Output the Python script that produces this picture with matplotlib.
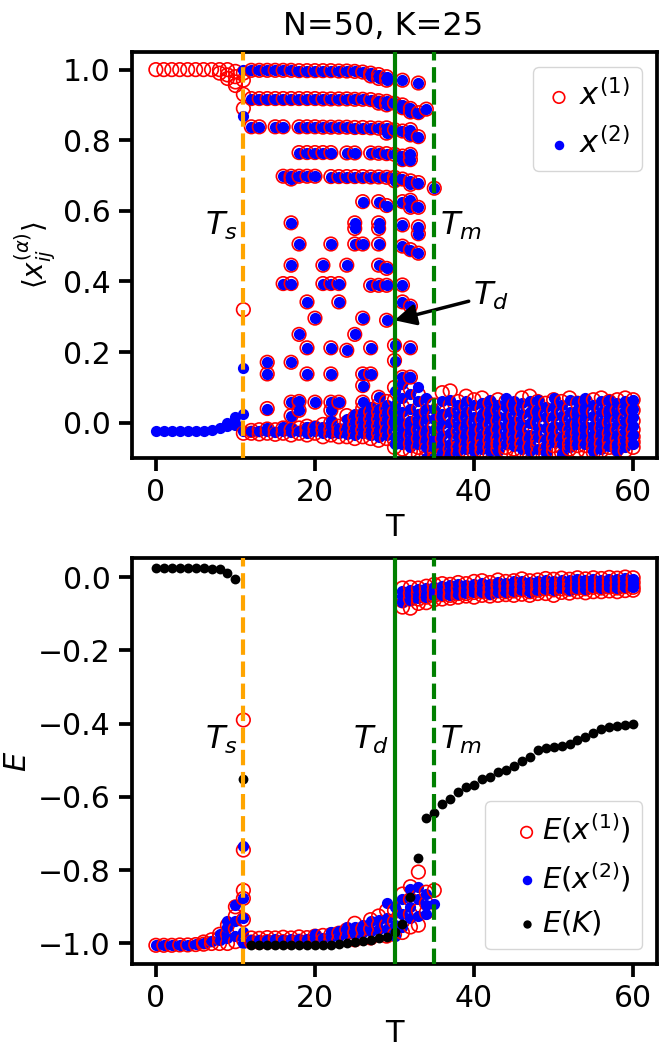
import numpy as np
import matplotlib
matplotlib.use('Agg')
import matplotlib.pyplot as plt

# ---------------- data ----------------
T_Ts, T_Td, T_Tm = 11, 30, 35

# top panel: <x_ij> below T_s (x1 ordered, x2 disordered)
x1_low_T = [0, 1, 2, 3, 4, 5, 6, 7, 8, 8, 9, 9, 9, 10, 10, 10, 10, 11, 11, 11, 11, 11, 11]
x1_low_v = [1.0, 1.0, 1.0, 1.0, 1.0, 1.0, 1.0, 1.0, 1.0, 0.99, 1.0, 0.985, 0.975,
            0.995, 0.98, 0.965, 0.955, 0.99, 0.97, 0.93, 0.89, 0.32, -0.03]
x2_low_T = [0, 1, 2, 3, 4, 5, 6, 7, 8, 9, 9, 10, 10, 10, 11, 11, 11, 11, 11]
x2_low_v = [-0.025, -0.025, -0.025, -0.025, -0.025, -0.024, -0.023, -0.021, -0.016,
            -0.01, 0.0, 0.015, 0.0, -0.006, 1.0, 0.87, 0.155, 0.025, -0.025]

# discrete levels between T_s and T_m (both replicas)
row_T = [12, 13, 14, 15, 16, 17, 18, 19, 20, 21, 22, 23, 24, 25, 26, 27, 27, 28, 28, 29, 29, 31, 33,
         12, 13, 14, 15, 16, 17, 18, 19, 20, 21, 22, 23, 24, 25, 26, 27, 28, 28, 29, 29, 30, 31, 31, 32, 32, 33, 34,
         12, 13, 15, 16, 18, 19, 20, 21, 22, 23, 24, 25, 26, 27, 28, 29, 29, 30, 31, 32, 32, 33,
         18, 19, 20, 21, 22, 24, 25, 27, 28, 29, 30, 31, 31, 32, 32,
         16, 17, 17, 18, 19, 20, 22, 23, 24, 25, 26, 27, 28, 29, 30, 30, 31, 32, 32, 33, 35]
row_v = [0.998, 0.998, 0.998, 0.998, 0.998, 0.998, 0.997, 0.997, 0.997, 0.997, 0.997, 0.996, 0.996, 0.995,
         0.993, 0.99, 0.982, 0.986, 0.975, 0.98, 0.97, 0.97, 0.962,
         0.918, 0.918, 0.918, 0.918, 0.918, 0.918, 0.918, 0.918, 0.918, 0.917, 0.917, 0.917, 0.917, 0.916,
         0.916, 0.915, 0.912, 0.905, 0.91, 0.9, 0.905, 0.9, 0.892, 0.89, 0.88, 0.878, 0.888,
         0.838, 0.838, 0.838, 0.838, 0.838, 0.838, 0.838, 0.837, 0.837, 0.837, 0.837, 0.836, 0.836, 0.835,
         0.834, 0.835, 0.82, 0.83, 0.826, 0.83, 0.815, 0.81,
         0.765, 0.765, 0.765, 0.765, 0.765, 0.764, 0.764, 0.764, 0.763, 0.762, 0.76, 0.755, 0.745, 0.76, 0.745,
         0.698, 0.698, 0.69, 0.698, 0.698, 0.698, 0.697, 0.697, 0.697, 0.697, 0.697, 0.696, 0.696, 0.695,
         0.695, 0.685, 0.69, 0.685, 0.675, 0.68, 0.664]

# isolated intermediate values (both replicas)
mid_T = [17, 18, 17, 16, 17, 19, 20, 18, 19, 14, 17, 14, 19, 22, 26, 27, 22, 21, 21, 22, 23, 23,
         25, 25, 25, 26, 24, 26, 25, 22, 24, 27, 26, 28, 28, 28, 28, 28, 29, 27, 28, 29, 29, 29,
         26, 26, 28, 17, 18, 20, 22, 23, 14, 17, 18, 22,
         31, 32, 32, 33, 31, 33, 33, 31, 32, 33, 31, 31, 32, 30, 30, 32, 31, 32]
mid_v = [0.566, 0.506, 0.446, 0.394, 0.394, 0.342, 0.296, 0.25, 0.212, 0.171, 0.171, 0.138, 0.138,
         0.138, 0.138, 0.138, 0.506, 0.446, 0.394, 0.394, 0.394, 0.342,
         0.566, 0.55, 0.506, 0.506, 0.446, 0.296, 0.25, 0.212, 0.205, 0.212, 0.626, 0.626, 0.566,
         0.55, 0.506, 0.446, 0.437, 0.389, 0.389, 0.389, 0.29, 0.615,
         0.105, 0.058, 0.072, 0.058, 0.06, 0.058, 0.058, 0.058, 0.04, 0.02, 0.035, 0.035,
         0.626, 0.63, 0.61, 0.61, 0.56, 0.555, 0.535, 0.5, 0.49, 0.48, 0.39, 0.342, 0.33,
         0.219, 0.176, 0.212, 0.129, 0.129]

# band near zero, T = 12 .. 29
band_T = [12, 13, 14, 15, 16, 17, 18, 19, 20, 21, 22, 23, 24, 25, 26, 27, 28, 29]
x1_band = [[-0.03, -0.022], [-0.032, -0.02], [-0.03, -0.018], [-0.033, -0.02], [-0.03, -0.015],
           [-0.035, -0.02], [-0.03, -0.015], [-0.035, -0.02, -0.01], [-0.03, -0.015],
           [-0.04, -0.02, -0.005], [-0.035, -0.02, 0.0], [-0.04, -0.025, -0.01],
           [-0.04, -0.02, 0.0, 0.02], [-0.045, -0.025, -0.005, 0.015],
           [-0.04, -0.02, 0.0, 0.02, 0.04], [-0.045, -0.03, -0.01, 0.01, 0.03],
           [-0.05, -0.03, -0.01, 0.01, 0.03, 0.05], [-0.045, -0.025, 0.0, 0.02, 0.04, 0.06]]
x2_band = [[-0.025], [-0.024], [-0.025, -0.015], [-0.026], [-0.025, -0.012], [-0.027, -0.015],
           [-0.025], [-0.028, -0.012], [-0.025, -0.01], [-0.03, -0.012], [-0.028, -0.01, 0.005],
           [-0.03, -0.015], [-0.032, -0.012, 0.01], [-0.035, -0.015, 0.005, 0.025],
           [-0.03, -0.01, 0.01, 0.03], [-0.035, -0.02, 0.0, 0.02, 0.045],
           [-0.04, -0.02, 0.0, 0.02, 0.04], [-0.035, -0.015, 0.01, 0.03, 0.05]]

# high temperature cloud, T = 30 .. 60
cloud_T = [30, 31, 32, 33, 34, 35, 36, 37, 38, 39, 40, 41, 42, 43, 44, 45,
           46, 47, 48, 49, 50, 51, 52, 53, 54, 55, 56, 57, 58, 59, 60]
x1_cloud = [[0.1, 0.065, 0.03, 0.0, -0.025, -0.05, -0.07],
            [0.12, 0.085, 0.045, 0.01, -0.02, -0.045, -0.075],
            [0.095, 0.055, 0.02, -0.005, -0.035, -0.06, -0.08],
            [0.08, 0.04, 0.01, -0.02, -0.045, -0.07, -0.09],
            [0.06, 0.03, 0.0, -0.03, -0.055, -0.075, -0.095],
            [0.05, 0.02, -0.01, -0.035, -0.06, -0.08, -0.1],
            [0.085, 0.04, 0.015, -0.015, -0.045, -0.07, -0.09],
            [0.09, 0.05, 0.02, -0.02, -0.05, -0.075, -0.095],
            [0.06, 0.035, 0.005, -0.025, -0.05, -0.07, -0.085],
            [0.075, 0.045, 0.015, -0.015, -0.04, -0.065, -0.08],
            [0.065, 0.03, 0.0, -0.03, -0.055, -0.07, -0.085],
            [0.07, 0.04, 0.01, -0.02, -0.045, -0.065, -0.08],
            [0.055, 0.025, -0.005, -0.03, -0.05, -0.07, -0.09],
            [0.065, 0.035, 0.005, -0.02, -0.045, -0.06, -0.075],
            [0.06, 0.03, 0.0, -0.025, -0.05, -0.07, -0.08],
            [0.05, 0.02, -0.01, -0.035, -0.055, -0.075, -0.09],
            [0.07, 0.04, 0.01, -0.015, -0.04, -0.06, -0.08],
            [0.075, 0.045, 0.015, -0.02, -0.045, -0.07, -0.095],
            [0.06, 0.03, 0.0, -0.03, -0.05, -0.065, -0.085],
            [0.055, 0.025, -0.005, -0.03, -0.055, -0.075, -0.09],
            [0.065, 0.035, 0.01, -0.02, -0.045, -0.065, -0.08],
            [0.06, 0.03, 0.0, -0.025, -0.05, -0.07, -0.085],
            [0.07, 0.04, 0.01, -0.02, -0.04, -0.06, -0.075],
            [0.055, 0.025, -0.005, -0.03, -0.05, -0.065, -0.08],
            [0.06, 0.035, 0.005, -0.02, -0.045, -0.065, -0.08],
            [0.065, 0.03, 0.0, -0.025, -0.05, -0.07, -0.085],
            [0.07, 0.04, 0.01, -0.015, -0.04, -0.06, -0.08],
            [0.06, 0.03, 0.0, -0.03, -0.05, -0.07, -0.09],
            [0.065, 0.035, 0.005, -0.02, -0.045, -0.065, -0.075],
            [0.07, 0.04, 0.01, -0.02, -0.045, -0.06, -0.08],
            [0.065, 0.035, 0.005, -0.02, -0.04, -0.055, -0.07]]
x2_cloud = [[0.09, 0.05, 0.015, -0.01, -0.04, -0.06],
            [0.11, 0.07, 0.03, 0.0, -0.03, -0.06],
            [0.13, 0.08, 0.04, 0.005, -0.02, -0.05, -0.07],
            [0.1, 0.06, 0.025, -0.005, -0.035, -0.06],
            [0.07, 0.04, 0.01, -0.02, -0.045, -0.07, -0.1],
            [0.04, 0.01, -0.02, -0.045, -0.07, -0.1],
            [0.06, 0.025, -0.005, -0.035, -0.06, -0.085, -0.105],
            [0.065, 0.03, 0.0, -0.03, -0.06, -0.085, -0.105],
            [0.05, 0.02, -0.01, -0.04, -0.065, -0.08],
            [0.06, 0.03, 0.0, -0.03, -0.055, -0.075],
            [0.05, 0.015, -0.015, -0.04, -0.065, -0.08],
            [0.055, 0.025, -0.005, -0.035, -0.06, -0.075],
            [0.065, 0.035, 0.01, -0.02, -0.04, -0.06, -0.08],
            [0.05, 0.02, -0.01, -0.035, -0.06, -0.08],
            [0.07, 0.045, 0.015, -0.01, -0.035, -0.06],
            [0.06, 0.035, 0.005, -0.02, -0.045, -0.065],
            [0.055, 0.025, -0.005, -0.03, -0.055, -0.075],
            [0.06, 0.03, 0.0, -0.035, -0.06, -0.08],
            [0.065, 0.04, 0.015, -0.015, -0.04, -0.075],
            [0.045, 0.015, -0.015, -0.045, -0.065, -0.085],
            [0.07, 0.045, 0.02, -0.01, -0.035, -0.055],
            [0.05, 0.02, -0.01, -0.04, -0.06, -0.09],
            [0.065, 0.03, 0.0, -0.03, -0.055, -0.07],
            [0.06, 0.035, 0.01, -0.015, -0.04, -0.06],
            [0.07, 0.045, 0.02, -0.01, -0.035, -0.06],
            [0.05, 0.02, -0.01, -0.035, -0.06, -0.08],
            [0.06, 0.03, 0.0, -0.03, -0.055, -0.075],
            [0.065, 0.04, 0.015, -0.015, -0.04, -0.065],
            [0.055, 0.025, -0.005, -0.035, -0.06, -0.08],
            [0.06, 0.035, 0.005, -0.025, -0.05, -0.07],
            [0.065, 0.04, 0.015, -0.01, -0.035, -0.06]]

# bottom panel: energies
temps = [0, 1, 2, 3, 4, 5, 6, 7, 8, 9, 10, 11, 12, 13, 14, 15, 16, 17, 18, 19, 20,
         21, 22, 23, 24, 25, 26, 27, 28, 29, 30, 31, 32, 33, 34, 35, 36, 37, 38, 39, 40,
         41, 42, 43, 44, 45, 46, 47, 48, 49, 50, 51, 52, 53, 54, 55, 56, 57, 58, 59, 60]
E_K = [0.024, 0.024, 0.024, 0.024, 0.024, 0.024, 0.024, 0.023, 0.021, 0.012, -0.005,
       -0.551, -1.005, -1.005, -1.005, -1.005, -1.005, -1.005, -1.005, -1.005, -1.004,
       -1.004, -1.003, -1.001, -0.999, -0.997, -0.994, -0.99, -0.986, -0.981, -0.968,
       -0.947, -0.874, -0.766, -0.657, -0.644, -0.62, -0.607, -0.586, -0.574, -0.568,
       -0.552, -0.547, -0.533, -0.527, -0.516, -0.503, -0.49, -0.472, -0.466, -0.463,
       -0.46, -0.455, -0.446, -0.437, -0.425, -0.416, -0.41, -0.407, -0.405, -0.401]

low_T = [0, 1, 2, 3, 4, 5, 6, 7, 8, 9, 10, 11, 12, 13, 14, 15, 16, 17, 18, 19, 20,
         21, 22, 23, 24, 25, 26, 27, 28, 29, 30, 31, 32, 33, 34, 35]
E1_low = [[-1.005], [-1.005], [-1.005], [-1.004], [-1.004], [-1.003], [-1.002, -0.996],
          [-1.0, -0.99], [-1.0, -0.985, -0.975], [-1.0, -0.975, -0.95],
          [-0.995, -0.96, -0.925, -0.9], [-0.39, -0.745, -0.855, -0.877, -0.935, -0.99],
          [-0.985, -0.996], [-0.986, -0.997], [-0.984, -0.995], [-0.985, -0.996],
          [-0.983, -0.995], [-0.985, -0.996], [-0.982, -0.994], [-0.984, -0.995],
          [-0.98, -0.993], [-0.978, -0.992], [-0.976, -0.99], [-0.972, -0.99],
          [-0.963, -0.985], [-0.945, -0.97, -0.99], [-0.96, -0.985],
          [-0.935, -0.96, -0.985], [-0.925, -0.95, -0.975], [-0.91, -0.95, -0.98],
          [-0.91, -0.94, -0.975], [-0.865, -0.9, -0.94, -0.97], [-0.845, -0.88, -0.92, -0.955],
          [-0.805, -0.87, -0.91, -0.95], [-0.86, -0.89, -0.915], [-0.855]]
E2_low = [[-1.004], [-1.004], [-1.004], [-1.004], [-1.003], [-1.002], [-0.999],
          [-0.994], [-0.99, -0.975], [-0.985, -0.955, -0.94], [-0.98, -0.94, -0.895],
          [-0.735, -0.877, -0.93, -0.97, -1.0],
          [-0.99], [-0.991], [-0.99], [-0.989], [-0.99], [-0.988], [-0.989], [-0.987],
          [-0.986, -0.975], [-0.985], [-0.982, -0.97], [-0.98, -0.965], [-0.975, -0.955],
          [-0.975, -0.955], [-0.97, -0.95], [-0.965, -0.94], [-0.96, -0.935],
          [-0.89, -0.93, -0.96], [-0.9, -0.95, -0.98], [-0.88, -0.92, -0.955],
          [-0.85, -0.9, -0.93], [-0.845, -0.88, -0.925], [-0.865, -0.895, -0.92], [-0.893]]

high_T = [31, 32, 33, 34, 35, 36, 37, 38, 39, 40, 41, 42, 43, 44, 45,
          46, 47, 48, 49, 50, 51, 52, 53, 54, 55, 56, 57, 58, 59, 60]
E1_high = [[-0.03, -0.05, -0.065, -0.082], [-0.028, -0.045, -0.06, -0.085],
           [-0.03, -0.045, -0.06, -0.072], [-0.025, -0.04, -0.055, -0.07],
           [-0.02, -0.035, -0.05, -0.062], [-0.018, -0.033, -0.048, -0.06],
           [-0.02, -0.035, -0.05, -0.058], [-0.015, -0.03, -0.045, -0.055],
           [-0.018, -0.032, -0.045, -0.052], [-0.012, -0.028, -0.042, -0.055],
           [-0.01, -0.025, -0.04, -0.05], [-0.015, -0.03, -0.043, -0.052],
           [-0.008, -0.022, -0.038, -0.05], [-0.012, -0.025, -0.04, -0.048],
           [-0.01, -0.025, -0.038, -0.05], [-0.005, -0.02, -0.035, -0.047],
           [-0.01, -0.025, -0.04, -0.05], [-0.008, -0.022, -0.036, -0.045],
           [-0.004, -0.018, -0.032, -0.045], [-0.006, -0.02, -0.035, -0.05],
           [-0.003, -0.018, -0.032, -0.042], [-0.006, -0.02, -0.033, -0.044],
           [-0.002, -0.016, -0.03, -0.04], [-0.005, -0.018, -0.032, -0.043],
           [-0.002, -0.015, -0.028, -0.04], [-0.004, -0.018, -0.03, -0.04],
           [-0.001, -0.014, -0.027, -0.038], [-0.003, -0.016, -0.03, -0.04],
           [0.0, -0.013, -0.026, -0.037], [-0.002, -0.015, -0.028, -0.036]]
E2_high = [[-0.038, -0.052, -0.068], [-0.035, -0.05, -0.062], [-0.032, -0.048, -0.058],
           [-0.03, -0.045, -0.055], [-0.028, -0.04, -0.05], [-0.025, -0.038, -0.05],
           [-0.022, -0.036, -0.048], [-0.02, -0.033, -0.046], [-0.022, -0.035, -0.044],
           [-0.018, -0.03, -0.042], [-0.015, -0.03, -0.04], [-0.02, -0.032, -0.045],
           [-0.014, -0.027, -0.04], [-0.016, -0.03, -0.04], [-0.012, -0.026, -0.038],
           [-0.01, -0.024, -0.036], [-0.014, -0.028, -0.04], [-0.01, -0.022, -0.034],
           [-0.008, -0.02, -0.032], [-0.012, -0.025, -0.036], [-0.007, -0.02, -0.03],
           [-0.009, -0.022, -0.034], [-0.005, -0.018, -0.03], [-0.008, -0.02, -0.032],
           [-0.005, -0.017, -0.028], [-0.007, -0.02, -0.03], [-0.004, -0.016, -0.028],
           [-0.006, -0.018, -0.03], [-0.003, -0.015, -0.026], [-0.005, -0.016, -0.027]]


def flatten(ts, groups):
    xs, ys = [], []
    for t, vals in zip(ts, groups):
        for v in vals:
            xs.append(t)
            ys.append(v)
    return xs, ys


def scatter_pair(ax, t1, v1, t2, v2, lab1, lab2):
    # one temperature after the other: replica 1 then replica 2,
    # so neighbouring columns overlap the way a per-T loop draws them
    t1, v1, t2, v2 = map(np.asarray, (t1, v1, t2, v2))
    h1 = h2 = None
    for k, t in enumerate(sorted(set(t1) | set(t2))):
        z = 2 + 0.001 * k
        m1 = t1 == t
        if m1.any():
            s = ax.scatter(t1[m1], v1[m1], zorder=z, **red_kw)
            h1 = h1 or s
        m2 = t2 == t
        if m2.any():
            s = ax.scatter(t2[m2], v2[m2], zorder=z + 0.0005, **blue_kw)
            h2 = h2 or s
    h1.set_label(lab1)
    h2.set_label(lab2)
    return h1, h2


plt.rcParams.update({
    'axes.linewidth': 2.7,
    'xtick.major.width': 2.7, 'ytick.major.width': 2.7,
    'xtick.major.size': 9.5, 'ytick.major.size': 9.5,
    'xtick.major.pad': 5, 'ytick.major.pad': 6,
    'xtick.labelsize': 21.5, 'ytick.labelsize': 21.5,
    'axes.labelsize': 22,
})

fig = plt.figure(figsize=(6.65, 10.54), dpi=100)
ax1 = fig.add_axes([0.1985, 0.5655, 0.7895, 0.3852])
ax2 = fig.add_axes([0.1985, 0.0854, 0.7895, 0.3852])

red_kw = dict(s=95, facecolors='none', edgecolors='red', linewidths=1.2)
blue_kw = dict(s=65, color='blue', linewidths=0)

# ---- top panel ----
bx, by = flatten(band_T, x1_band)
cx, cy = flatten(cloud_T, x1_cloud)
x1_T = x1_low_T + row_T + mid_T + bx + cx
x1_v = x1_low_v + row_v + mid_v + by + cy
bx, by = flatten(band_T, x2_band)
cx, cy = flatten(cloud_T, x2_cloud)
x2_T = x2_low_T + row_T + mid_T + bx + cx
x2_v = x2_low_v + row_v + mid_v + by + cy

h1, h2 = scatter_pair(ax1, x1_T, x1_v, x2_T, x2_v, r'$x^{(1)}$', r'$x^{(2)}$')
ax1.axvline(T_Ts, color='orange', ls='--', lw=3, zorder=4)
ax1.axvline(T_Td, color='green', ls='-', lw=3, zorder=4)
ax1.axvline(T_Tm, color='green', ls='--', lw=3, zorder=4)
ax1.text(8.2, 0.557, r'$T_s$', fontsize=23, ha='center', va='center')
ax1.text(38.4, 0.557, r'$T_m$', fontsize=23, ha='center', va='center')
ax1.annotate(r'$T_d$', xy=(30.0, 0.29), xytext=(42.1, 0.36), fontsize=23,
             ha='center', va='center',
             arrowprops=dict(arrowstyle='-|>', color='black', lw=2.5,
                             mutation_scale=32, shrinkA=1, shrinkB=0))
ax1.set_xlim(-3, 63)
ax1.set_ylim(-0.1, 1.05)
ax1.set_xlabel('T')
ax1.set_ylabel(r'$\langle x_{ij}^{(\alpha)} \rangle$', fontsize=20)
ax1.legend(handles=[h1, h2], loc='upper right', fontsize=22,
           handlelength=0.9, handletextpad=0.2, markerscale=0.85)

# ---- bottom panel ----
lx, ly = flatten(low_T, E1_low)
hx, hy = flatten(high_T, E1_high)
e1_T, e1_v = lx + hx, ly + hy
lx, ly = flatten(low_T, E2_low)
hx, hy = flatten(high_T, E2_high)
e2_T, e2_v = lx + hx, ly + hy

g1, g2 = scatter_pair(ax2, e1_T, e1_v, e2_T, e2_v, r'$E(x^{(1)})$', r'$E(x^{(2)})$')
g3 = ax2.scatter(temps, E_K, s=50, color='black', linewidths=0, zorder=3.5,
                 label=r'$E(K)$')
ax2.axvline(T_Ts, color='orange', ls='--', lw=3, zorder=4)
ax2.axvline(T_Td, color='green', ls='-', lw=3, zorder=4)
ax2.axvline(T_Tm, color='green', ls='--', lw=3, zorder=4)
ax2.text(8.2, -0.445, r'$T_s$', fontsize=23, ha='center', va='center')
ax2.text(27.0, -0.445, r'$T_d$', fontsize=23, ha='center', va='center')
ax2.text(38.4, -0.445, r'$T_m$', fontsize=23, ha='center', va='center')
ax2.set_xlim(-3, 63)
ax2.set_ylim(-1.056, 0.052)
ax2.set_xlabel('T')
ax2.set_ylabel(r'$E$')
ax2.legend(handles=[g1, g2, g3], loc='lower right', fontsize=21,
           handlelength=2.05, handletextpad=-0.5, markerscale=0.85)

fig.text(383 / 665, 1 - 35 / 1054, 'N=50, K=25', fontsize=23, ha='center', va='baseline')

fig.savefig('out.png', dpi=100)
